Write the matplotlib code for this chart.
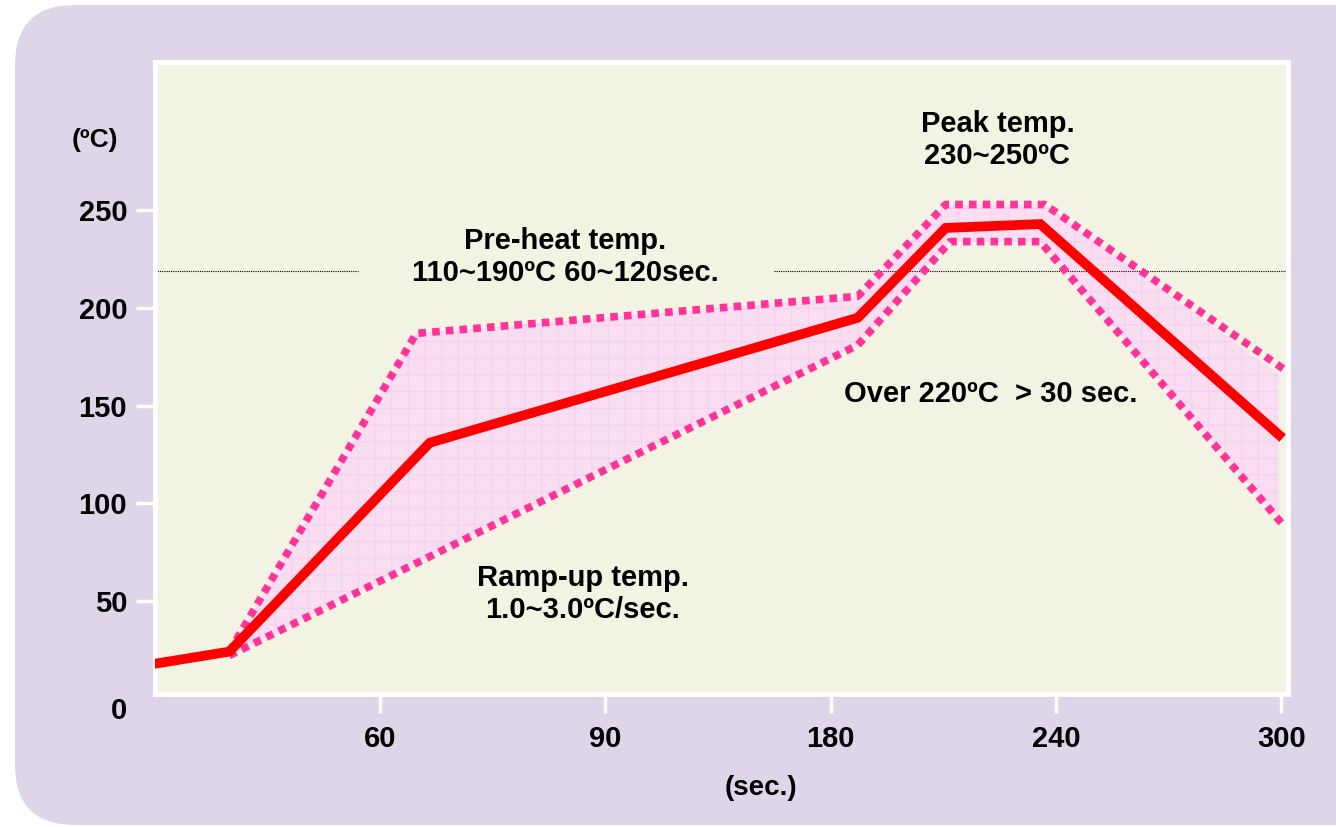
import matplotlib.pyplot as plt
from matplotlib.patches import FancyBboxPatch

plt.rcParams['font.family'] = ['Liberation Sans', 'DejaVu Sans']
plt.rcParams['font.weight'] = 'bold'
plt.rcParams['hatch.linewidth'] = 0.6

# x positions are on an evenly spaced tick scale (0..5), labels below
x_ticks = [1, 2, 3, 4, 5]
x_labels = ['60', '90', '180', '240', '300']
y_ticks = [50, 100, 150, 200, 250]

# reflow profile (solid red)
prof_x = [0.01, 0.33, 1.22, 3.12, 3.51, 3.93, 4.99]
prof_y = [18, 24, 131, 195, 241, 243, 135]

# upper / lower limits (dotted pink)
up_x = [0.33, 1.16, 3.12, 3.51, 3.95, 5.02]
up_y = [24, 187, 206, 253, 253, 168]
lo_x = [0.33, 3.12, 3.53, 3.93, 5.0]
lo_y = [22, 181, 234, 234, 90]

# band polygon for the shaded area
band_x = up_x[:-1] + [4.99, 4.99] + lo_x[::-1][1:]
band_y = up_y[:-1] + [166, 92] + lo_y[::-1][1:]

fig = plt.figure(figsize=(13.36, 8.27), dpi=100)
fig.patch.set_facecolor('white')
bg = FancyBboxPatch((15 / 1336, 2 / 827), 1.1, (822 - 2) / 827,
                    boxstyle='round,pad=0,rounding_size=0.045',
                    transform=fig.transFigure, facecolor='#dfd5e9',
                    edgecolor='none', mutation_aspect=1336 / 827, zorder=-5)
fig.patches.append(bg)

ax = fig.add_axes([155 / 1336, 1 - 694 / 827, (1288 - 155) / 1336, (694 - 62) / 827])
ax.set_zorder(2)
ax.set_facecolor('#f3f3e3')
ax.set_xlim(0, 5.03)
ax.set_ylim(2.3, 326)

ax.fill(band_x, band_y, facecolor='#f9ddf1', edgecolor='#f7cdee', hatch='+',
        linewidth=0, zorder=1)
ax.plot([0, 0.9], [219, 219], color='black', linestyle=(0, (1, 1)), linewidth=0.8, zorder=2)
ax.plot([2.75, 5.03], [219, 219], color='black', linestyle=(0, (1, 1)), linewidth=0.8, zorder=2)

ax.plot(up_x, up_y, color='#ff3399', linewidth=5.5, linestyle=(0, (1, 0.8)),
        dash_capstyle='butt', zorder=3)
ax.plot(lo_x, lo_y, color='#ff3399', linewidth=5.5, linestyle=(0, (1, 0.8)),
        dash_capstyle='butt', zorder=3)
ax.plot(prof_x, prof_y, color='#ff0000', linewidth=7, solid_joinstyle='miter', zorder=4)

for s in ax.spines.values():
    s.set_color('white')
    s.set_linewidth(3.5)

ax.set_xticks(x_ticks)
ax.set_xticklabels(x_labels)
ax.set_yticks(y_ticks)
ax.tick_params(axis='both', colors='white', width=2.5, labelsize=21, labelcolor='black')
ax.tick_params(axis='x', length=14, pad=8)
ax.tick_params(axis='y', length=14, pad=6)
for t in ax.get_xticklabels() + ax.get_yticklabels():
    t.set_fontweight('bold')

ax.text(-0.124, -6.5, '0', ha='right', va='center', fontsize=21, fontweight='bold', clip_on=False)
ax.text(-0.267, 286, '(ºC)', ha='center', va='center', fontsize=19, fontweight='bold')
ax.text(2.69, -46, '(sec.)', ha='center', va='center', fontsize=20, fontweight='bold',
        clip_on=False)

ax.text(3.74, 286, 'Peak temp.\n230~250ºC', ha='center', va='center', fontsize=21,
        fontweight='bold', linespacing=1.2)
ax.text(1.82, 226, 'Pre-heat temp.\n110~190ºC 60~120sec.', ha='center', va='center',
        fontsize=21, fontweight='bold', linespacing=1.2)
ax.text(3.71, 156, 'Over 220ºC  > 30 sec.', ha='center', va='center', fontsize=21,
        fontweight='bold')
ax.text(1.90, 53.6, 'Ramp-up temp.\n1.0~3.0ºC/sec.', ha='center', va='center', fontsize=21,
        fontweight='bold', linespacing=1.2)

fig.savefig('out.png', dpi=100)
